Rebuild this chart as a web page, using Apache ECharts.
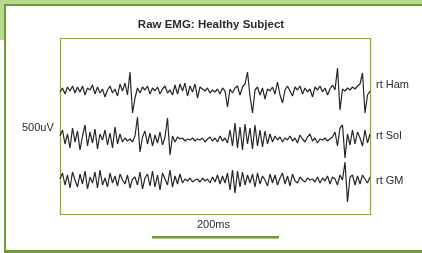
<!DOCTYPE html>
<html>
<head>
<meta charset="utf-8">
<script src="https://cdn.jsdelivr.net/npm/echarts@6/dist/echarts.min.js"></script>
<style>
  html, body { margin: 0; padding: 0; background: #fff; }
  #chart { width: 422px; height: 253px; }
</style>
</head>
<body>
<div id="chart"></div>
<script>
// samples every 4 ms, amplitudes in uV relative to each trace baseline
const stepMs = 4;
const muscles = ['rt Ham', 'rt Sol', 'rt GM'];

const ham = [
  0, 40, -20, 50, 10, 60, -10, 50, 0, 60, -30, 40, 20, 70, -20, 50, -10, 30, -50, 20,
  60, -10, 30, -40, 80, 10, 90, -30, 200, -210, -60, 40, -10, 50, 20, 60, -20, 40, 10, 50,
  -20, 30, 60, -10, 20, -30, 70, -20, 80, 10, 90, -40, 60, 0, 80, -60, 50, 30, 10, 40,
  -10, 20, 0, 30, -20, 40, 10, -150, 30, -10, 40, 60, -30, 50, 80, 200, -40, -210, 20, 50,
  -30, 40, -70, 30, 10, 50, -20, 100, -30, -110, 20, 60, 10, -40, 50, 20, 60, -20, 40, 0,
  30, -50, 50, 20, 60, 0, 40, -30, 30, 70, 20, 240, -180, 30, 10, 40, 20, 50, 30, 60,
  80, 190, -210, -30, 10
];

const sol = [
  40, 100, -40, 60, -80, 120, -20, 90, -100, 40, 150, -60, 80, -30, 110, -90, 60, 0, 100, -50,
  70, -80, 130, -40, 60, -20, 20, -10, 10, -20, 40, 230, -120, 30, 90, -40, 70, -60, 50, -30,
  80, -50, 30, 220, -150, 40, -20, 30, 10, 20, -10, 10, 0, 20, -10, 10, 0, 20, -20, 10,
  30, -10, 20, -20, 40, -10, 20, -30, 100, -60, 170, -80, 130, -100, 160, -40, 120, -90, 150, -60,
  100, -70, 90, -40, 60, -20, 40, 0, 30, -20, 20, 0, 40, -10, 20, -30, 50, 10, -20, 30,
  60, -10, 20, -30, 10, 0, 20, -10, 10, 30, 80, -60, 120, 150, -180, 60, -50, 100, -40, 80,
  20, -60, 100, -30, 60
];

const gm = [
  20, 80, -40, 60, -70, 90, 10, -60, 70, -30, 100, -80, 40, -20, 90, -70, 110, -40, 30, -60,
  80, -20, 50, -50, 70, 10, -30, 60, -70, 20, 40, -40, 90, -80, 30, 70, -50, 100, -60, 60,
  -90, 80, 20, -40, 110, -60, 50, -30, 70, -20, 20, 0, 30, -10, 10, 20, -10, 30, 0, 20,
  -20, 40, -10, 60, -30, 50, -20, 80, -90, 110, -120, 100, -60, 90, -40, 60, -20, 70, -60, 80,
  -30, 50, 10, -50, 70, -20, 60, -40, 30, 80, -30, 50, -50, 70, 0, -20, 40, 10, -10, 30,
  10, 20, -10, 40, -20, 30, 0, 50, -30, 40, 20, -40, 60, 10, 190, -210, 40, 60, -40, 50,
  -30, 60, 20, -20, 40
];

const traces = [ham, sol, gm];
const baselineY = [92, 140, 181];   // pixel centre of each trace
const halfSpan = 30;                  // px each side, 10 uV per px

const green = '#6f9a34';
const textColor = '#2b2b2b';
const font = '"Liberation Sans", Arial, sans-serif';

const grids = baselineY.map(c => ({
  left: 60, right: 52, top: c - halfSpan, height: halfSpan * 2
}));

const xAxes = traces.map((t, i) => ({
  type: 'value', gridIndex: i, min: 0, max: (t.length - 1) * stepMs, show: false
}));

const yAxes = traces.map((t, i) => ({
  type: 'value', gridIndex: i, min: -300, max: 300, show: false
}));

const series = traces.map((t, i) => ({
  type: 'line',
  name: muscles[i],
  xAxisIndex: i,
  yAxisIndex: i,
  data: t.map((v, k) => [k * stepMs, v]),
  showSymbol: false,
  silent: true,
  lineStyle: { color: '#262626', width: 1.2 }
}));

const labels = muscles.map((m, i) => ({
  type: 'text',
  left: 376,
  top: [86, 137, 182][i] - 7,
  style: { text: m, fill: textColor, font: '11px ' + font }
}));

const chart = echarts.init(document.getElementById('chart'), null, { renderer: 'canvas' });
chart.setOption({
  animation: false,
  backgroundColor: '#fff',
  title: {
    text: 'Raw EMG: Healthy Subject',
    left: 'center',
    top: 19,
    padding: 0,
    textStyle: { fontSize: 11.5, fontWeight: 'bold', color: textColor, fontFamily: font }
  },
  grid: grids,
  xAxis: xAxes,
  yAxis: yAxes,
  series: series,
  graphic: [
    // outer frame
    { type: 'rect', shape: { x: 0, y: 0, width: 422, height: 4 }, style: { fill: '#b8da8e' } },
    { type: 'rect', shape: { x: 0, y: 0, width: 4, height: 40 }, style: { fill: '#b8da8e' } },
    { type: 'rect', shape: { x: 4, y: 4, width: 418, height: 2 }, style: { fill: green } },
    { type: 'rect', shape: { x: 4, y: 4, width: 2, height: 249 }, style: { fill: green } },
    { type: 'rect', shape: { x: 4, y: 250, width: 418, height: 3 }, style: { fill: green } },
    // plot box
    { type: 'rect', shape: { x: 60.5, y: 38.5, width: 310, height: 176 },
      style: { fill: 'none', stroke: '#8ea64c', lineWidth: 1.2 }, silent: true },
    // scale bar
    { type: 'rect', shape: { x: 152, y: 236, width: 127, height: 2.5 }, style: { fill: green } },
    { type: 'text', left: 197, top: 219, style: { text: '200ms', fill: textColor, font: '11px ' + font } },
    { type: 'text', left: 22, top: 122, style: { text: '500uV', fill: textColor, font: '11px ' + font } }
  ].concat(labels)
});
</script>
</body>
</html>
